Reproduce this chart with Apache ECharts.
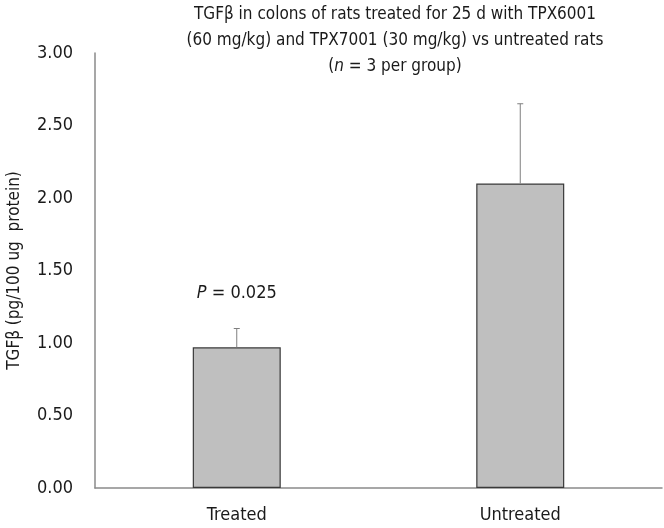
<!DOCTYPE html>
<html><head><meta charset="utf-8">
<script src="https://cdn.jsdelivr.net/npm/echarts@6/dist/echarts.min.js"></script>
<style>html,body{margin:0;padding:0;background:#fff}#c{width:664px;height:528px}</style>
</head><body><div id="c"></div>
<script>
var categories = ['Treated', 'Untreated'];
var means = [0.97, 2.10];
var errors = [0.13, 0.55];
var yTicks = [0, 0.5, 1, 1.5, 2, 2.5, 3];
var pLabelY = 1.345;
var titleLines = ['TGFβ in colons of rats treated for 25 d with TPX6001', '(60 mg/kg) and TPX7001 (30 mg/kg) vs untreated rats', '({n|n} = 3 per group)'];
var yName = 'TGFβ (pg/100 ug  protein)';

var font = 'DejaVu Sans Condensed';
var chart = echarts.init(document.getElementById('c'));
chart.setOption({
  animation: false,
  title: {
    text: titleLines.join('\n'),
    left: 390, top: -3, textAlign: 'center',
    textStyle: {fontFamily: font, fontSize: 17, fontWeight: 'normal', color: '#1a1a1a', lineHeight: 26,
      rich: {n: {fontStyle: 'italic', fontFamily: font, fontSize: 17, color: '#1a1a1a', lineHeight: 26}}}
  },
  grid: {left: 95, right: 2, top: 53, bottom: 40, outerBoundsMode: 'none', containLabel: false},
  xAxis: {
    type: 'category', data: categories,
    axisLine: {lineStyle: {color: '#8a8a8a', width: 1.5}},
    axisTick: {show: false},
    axisLabel: {fontFamily: font, fontSize: 18, color: '#1a1a1a', margin: 18}
  },
  yAxis: {
    type: 'value', min: 0, max: 3, interval: 0.5,
    name: yName, nameLocation: 'middle', nameGap: 72,
    nameTextStyle: {fontFamily: font, fontSize: 17, color: '#1a1a1a'},
    axisLine: {show: true, lineStyle: {color: '#8a8a8a', width: 1.5}},
    axisTick: {show: false},
    splitLine: {show: false},
    axisLabel: {fontFamily: font, fontSize: 18, color: '#1a1a1a', margin: 22,
      formatter: function (v) { return yTicks.indexOf(v) >= 0 ? v.toFixed(2) : ''; }}
  },
  series: [
    {
      type: 'bar', data: means, barWidth: 88,
      itemStyle: {color: '#bfbfbf', borderColor: '#3a3a3a', borderWidth: 1.2}
    },
    {
      type: 'custom',
      data: means.map(function (m, i) { return [i, m, m + errors[i]]; }),
      renderItem: function (params, api) {
        var lo = api.coord([api.value(0), api.value(1)]);
        var hi = api.coord([api.value(0), api.value(2)]);
        var st = {stroke: '#7f7f7f', lineWidth: 1};
        return {type: 'group', children: [
          {type: 'line', shape: {x1: lo[0], y1: lo[1], x2: hi[0], y2: hi[1]}, style: st},
          {type: 'line', shape: {x1: hi[0] - 3, y1: hi[1], x2: hi[0] + 3, y2: hi[1]}, style: st}
        ]};
      },
      z: 3
    },
    {
      type: 'scatter', symbolSize: 0,
      data: [[0, pLabelY]],
      itemStyle: {opacity: 1},
      label: {show: true, position: 'inside',
        formatter: '{i|P} = 0.025',
        fontFamily: font, fontSize: 18, color: '#1a1a1a',
        rich: {i: {fontStyle: 'italic', fontFamily: font, fontSize: 18, color: '#1a1a1a'}}}
    }
  ]
});
</script></body></html>
